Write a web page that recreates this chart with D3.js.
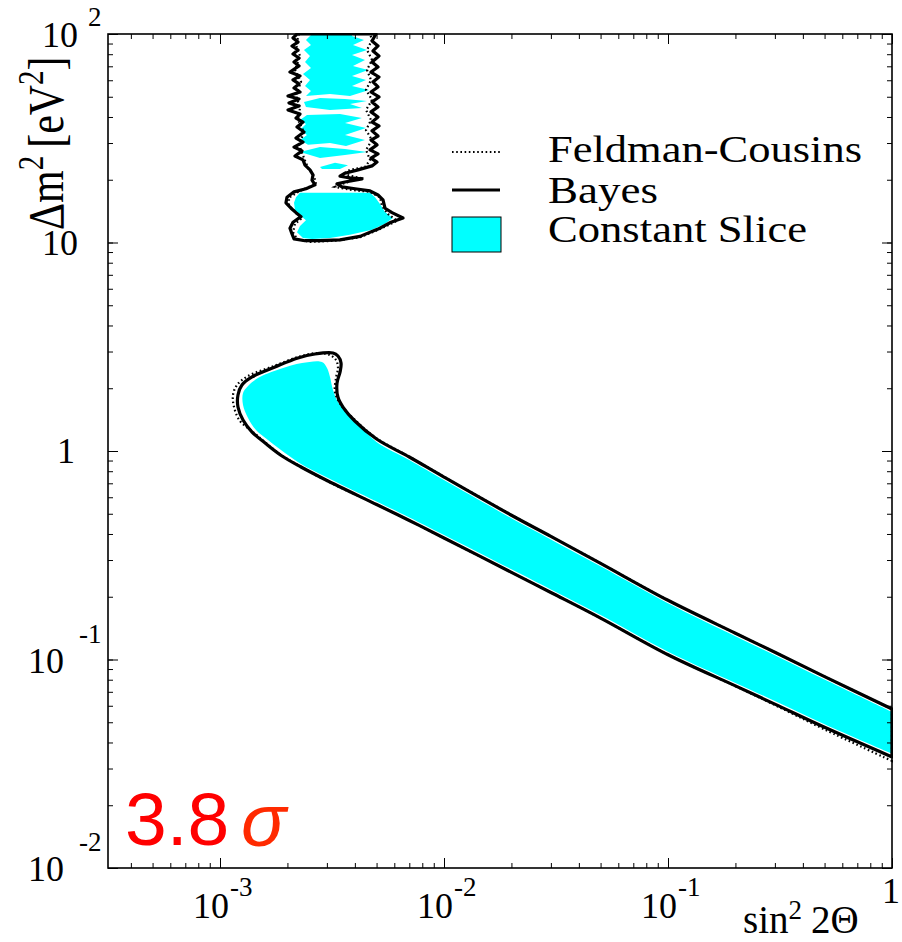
<!DOCTYPE html>
<html>
<head>
<meta charset="utf-8">
<script src="https://cdn.jsdelivr.net/npm/d3@7"></script>
<style>
  body { margin: 0; background: #fff; }
  svg { display: block; }
</style>
</head>
<body>
<script>
// ---------------------------------------------------------------
// Allowed region (3.8 sigma) in the (sin^2 2Theta, Delta m^2) plane
// Each contour is a list of [sin^2 2Theta, Delta m^2 (eV^2)] vertices.
// ---------------------------------------------------------------

// Low-mass band: Bayes contour (solid)
const bayesBand = [
  [1, 0.0341], [0.5, 0.0473], [0.3, 0.0611], [0.2, 0.0747], [0.1, 0.1054],
  [0.05, 0.158], [0.03, 0.2096], [0.02, 0.2619], [0.01, 0.3825], [0.007, 0.4642],
  [0.005, 0.5538], [0.002973, 0.726], [0.0023, 0.838], [0.001891, 0.946],
  [0.001589, 1.092], [0.00139, 1.233], [0.001267, 1.408], [0.001203, 1.625],
  [0.001203, 1.856], [0.001253, 2.073], [0.00139, 2.265], [0.00176, 2.529],
  [0.002228, 2.793], [0.002655, 2.919], [0.003195, 2.951], [0.003363, 2.855],
  [0.00347, 2.642], [0.003436, 2.393], [0.00333, 2.12], [0.00336, 1.815],
  [0.00354, 1.625], [0.004, 1.393], [0.005, 1.142], [0.007, 0.936], [0.01, 0.75],
  [0.02, 0.492], [0.03, 0.3895], [0.05, 0.2892], [0.1, 0.1923], [0.2, 0.1337],
  [0.3, 0.1083], [0.5, 0.0828], [1, 0.0579]
];

// Low-mass band: Feldman-Cousins contour (dotted)
const fcBand = [
  [1, 0.0326], [0.5, 0.0462], [0.3, 0.0605], [0.2, 0.0745], [0.1, 0.1054],
  [0.05, 0.158], [0.03, 0.2096], [0.02, 0.2619], [0.01, 0.382], [0.007, 0.464],
  [0.005, 0.554], [0.002973, 0.722], [0.0023, 0.84], [0.001891, 0.95],
  [0.001589, 1.1], [0.00139, 1.245], [0.001228, 1.393], [0.001155, 1.625],
  [0.001143, 1.856], [0.001191, 2.073], [0.001334, 2.289], [0.001742, 2.557],
  [0.00223, 2.824], [0.002738, 2.951], [0.003098, 2.886], [0.003295, 2.732],
  [0.003363, 2.501], [0.003295, 2.239], [0.003261, 1.919], [0.003471, 1.662],
  [0.004, 1.41], [0.005, 1.15], [0.007, 0.94], [0.01, 0.752], [0.02, 0.494],
  [0.03, 0.39], [0.05, 0.29], [0.1, 0.1923], [0.2, 0.1337], [0.3, 0.1083],
  [0.5, 0.0828], [1, 0.0579]
];

// Low-mass band: constant-slice region (filled)
const sliceBand = [
  [1, 0.0353], [0.5, 0.0489], [0.3, 0.0632], [0.2, 0.0772], [0.1, 0.109],
  [0.05, 0.1634], [0.03, 0.2167], [0.02, 0.2708], [0.01, 0.3955], [0.007, 0.48],
  [0.005, 0.5726], [0.002973, 0.751], [0.0023, 0.867], [0.00195, 0.978],
  [0.001638, 1.129], [0.001448, 1.261], [0.001334, 1.44], [0.001267, 1.662],
  [0.001267, 1.898], [0.001334, 2.05], [0.001477, 2.239], [0.001853, 2.474],
  [0.002323, 2.642], [0.002853, 2.673], [0.003004, 2.501], [0.003098, 2.265],
  [0.003195, 1.962], [0.003363, 1.718], [0.00369, 1.521], [0.004131, 1.347],
  [0.005, 1.104], [0.007, 0.905], [0.01, 0.725], [0.02, 0.476], [0.03, 0.3767],
  [0.05, 0.2797], [0.1, 0.186], [0.2, 0.1293], [0.3, 0.1047], [0.5, 0.0801],
  [1, 0.056]
];

// High-mass island: Bayes contour (solid)
const bayesIsland = [
  [0.002207, 100], [0.002118, 95.7], [0.00223, 91.5], [0.002096, 87.6],
  [0.00223, 83.8], [0.002118, 80.2], [0.002253, 76.7], [0.00214, 73.4],
  [0.002253, 70.3], [0.002053, 65.7], [0.002276, 62.9], [0.002118, 60.2],
  [0.002253, 57.6], [0.00214, 55.1], [0.002276, 52.7], [0.002012, 50.4],
  [0.002253, 48.8], [0.002032, 46.7], [0.002253, 45.1], [0.002012, 43.2],
  [0.002276, 41.3], [0.002184, 39.5], [0.002347, 37.8], [0.002207, 35.8],
  [0.002371, 33.9], [0.002184, 31.7], [0.002347, 30.3], [0.00214, 28.7],
  [0.002323, 27.5], [0.002162, 26.0], [0.002347, 24.9], [0.002396, 23.5],
  [0.002522, 22.3], [0.002601, 21.1], [0.002575, 19.9], [0.002655, 18.9],
  [0.00242, 18.1], [0.00214, 17.5], [0.001991, 16.5], [0.00197, 15.5],
  [0.002075, 14.6], [0.002184, 13.9], [0.0023, 13.3], [0.002118, 12.5],
  [0.002053, 11.7], [0.002096, 10.99], [0.00214, 10.4], [0.002396, 10.2],
  [0.002795, 10.2], [0.003433, 10.3], [0.004217, 10.7], [0.005074, 11.6],
  [0.0058, 12.5], [0.006561, 13.1], [0.005861, 13.9], [0.005453, 14.6],
  [0.005342, 16.0], [0.005074, 16.9], [0.004674, 17.7], [0.004006, 18.1],
  [0.003504, 18.5], [0.003329, 19.1], [0.003614, 19.5], [0.004006, 19.9],
  [0.004304, 20.2], [0.003805, 20.4], [0.003433, 20.8], [0.003614, 21.5],
  [0.004131, 22.3], [0.004772, 23.3], [0.005022, 24.3], [0.004722, 25.4],
  [0.005074, 26.6], [0.004674, 27.8], [0.005022, 29.4], [0.004722, 31.0],
  [0.005074, 32.4], [0.004772, 34.3], [0.005125, 36.2], [0.004772, 37.8],
  [0.005074, 40.0], [0.004722, 42.3], [0.005074, 44.7], [0.004772, 47.2],
  [0.005125, 49.9], [0.004722, 52.7], [0.005074, 55.7], [0.004819, 58.9],
  [0.005125, 62.2], [0.004722, 65.7], [0.005074, 69.5], [0.004772, 73.4],
  [0.005125, 78.4], [0.004819, 82.9], [0.005074, 87.6], [0.004772, 92.6],
  [0.00497, 100]
];

// High-mass island: Feldman-Cousins contour (dotted)
const fcIsland = [
  [0.002253, 100], [0.002184, 88.6], [0.002276, 78.4], [0.002162, 67.2],
  [0.0023, 58.9], [0.002184, 51.0], [0.002276, 44.2], [0.00223, 38.7],
  [0.002371, 33.9], [0.002253, 29.4], [0.002371, 25.4], [0.002471, 22.8],
  [0.002628, 20.8], [0.002683, 19.1], [0.002276, 17.7], [0.002032, 16.4],
  [0.002032, 15.1], [0.002184, 13.9], [0.002323, 13.1], [0.002162, 12.3],
  [0.002118, 11.2], [0.002207, 10.4], [0.002522, 10.06], [0.003261, 10.2],
  [0.004217, 10.6], [0.00518, 11.6], [0.006169, 12.7], [0.005623, 13.7],
  [0.005287, 14.96], [0.00518, 16.5], [0.004674, 17.5], [0.003805, 17.9],
  [0.003261, 18.5], [0.003614, 19.3], [0.004217, 20.4], [0.003541, 21.3],
  [0.003805, 22.3], [0.00444, 23.0], [0.004674, 24.9], [0.004486, 27.8],
  [0.004772, 31.0], [0.004486, 34.6], [0.004722, 38.7], [0.004486, 43.2],
  [0.004772, 48.3], [0.004486, 53.9], [0.004722, 60.2], [0.004532, 67.2],
  [0.004772, 75.1], [0.004532, 83.8], [0.004772, 93.6], [0.004674, 100]
];

// High-mass island: constant-slice regions (filled), one list per piece
const sliceIsland = [
  [[0.002575, 100], [0.00242, 93.6], [0.002548, 88.6], [0.002371, 83.8],
   [0.002522, 78.4], [0.002396, 73.4], [0.002548, 68.7], [0.002347, 64.3],
   [0.002522, 60.2], [0.002396, 56.3], [0.002548, 53.3], [0.00242, 50.4],
   [0.003098, 51.6], [0.003805, 50.4], [0.004627, 53.9], [0.003884, 56.3],
   [0.004486, 60.2], [0.003884, 62.9], [0.004579, 67.2], [0.003924, 70.3],
   [0.00444, 75.1], [0.003884, 79.3], [0.004532, 83.8], [0.003924, 88.6],
   [0.004394, 93.6], [0.003884, 97.8], [0.003884, 100]],
  [[0.002371, 47.2], [0.002795, 49.3], [0.003614, 48.8], [0.004532, 47.7],
   [0.003805, 46.2], [0.004304, 44.2], [0.003098, 43.2], [0.00242, 44.7]],
  [[0.002445, 40.9], [0.002276, 38.7], [0.00242, 37.0], [0.002276, 34.6],
   [0.002445, 32.8], [0.002276, 31.0], [0.002471, 29.4], [0.003098, 30.0],
   [0.003652, 29.0], [0.00444, 31.0], [0.003614, 32.8], [0.004486, 35.4],
   [0.003614, 37.4], [0.004304, 39.5], [0.003433, 41.3]],
  [[0.002276, 27.2], [0.002795, 28.7], [0.003614, 28.1], [0.004532, 27.2],
   [0.003614, 26.3], [0.002795, 25.4]],
  [[0.002795, 23.0], [0.003261, 24.1], [0.003728, 23.5], [0.003433, 22.5],
   [0.002853, 22.5]],
  [[0.002276, 17.3], [0.004674, 17.3], [0.00492, 16.5], [0.00518, 15.3],
   [0.005453, 14.0], [0.00592, 13.1], [0.005453, 12.3], [0.004772, 11.5],
   [0.003805, 10.9], [0.003098, 10.5], [0.002575, 10.4], [0.002347, 10.5],
   [0.002207, 11.2], [0.002276, 12.0], [0.00242, 12.8], [0.002276, 13.5],
   [0.002162, 14.3], [0.00214, 15.5], [0.002184, 16.5]]
];

// Axis ranges and labelled decades
const xDomain = [Math.pow(10, -3.5), 1];
const yDomain = [0.01, 100];
const xTickLabels = [
  { value: 1e-3, base: "10", exp: "-3" },
  { value: 1e-2, base: "10", exp: "-2" },
  { value: 1e-1, base: "10", exp: "-1" },
  { value: 1,    base: "1",  exp: "" }
];
const yTickLabels = [
  { value: 100,  base: "10", exp: "2" },
  { value: 10,   base: "10", exp: "" },
  { value: 1,    base: "1",  exp: "" },
  { value: 0.1,  base: "10", exp: "-1" },
  { value: 0.01, base: "10", exp: "-2" }
];
const legendItems = ["Feldman-Cousins", "Bayes", "Constant Slice"];
const significance = "3.8";

// ---------------------------------------------------------------
const W = 902, H = 942;
const plot = { left: 108, right: 892, top: 34, bottom: 868 };
const serif = "'Liberation Serif', 'Times New Roman', Times, serif";
const sans = "'Liberation Sans', Arial, Helvetica, sans-serif";
const CYAN = "#00ffff";

const svg = d3.select("body").append("svg")
  .attr("width", W).attr("height", H)
  .attr("viewBox", `0 0 ${W} ${H}`);

const x = d3.scaleLog().domain(xDomain).range([plot.left, plot.right]);
const y = d3.scaleLog().domain(yDomain).range([plot.bottom, plot.top]);

svg.append("defs").append("clipPath").attr("id", "plotClip")
  .append("rect")
  .attr("x", plot.left - 1).attr("y", plot.top - 1)
  .attr("width", plot.right - plot.left + 2)
  .attr("height", plot.bottom - plot.top + 2);

const area = svg.append("g").attr("clip-path", "url(#plotClip)");

const smooth = d3.line().x(d => x(d[0])).y(d => y(d[1]))
  .curve(d3.curveCatmullRom.alpha(0.5));
const jagged = d3.line().x(d => x(d[0])).y(d => y(d[1]))
  .curve(d3.curveLinearClosed);

// constant slice fill
area.append("path").attr("d", smooth(sliceBand) + "Z")
  .attr("fill", CYAN).attr("stroke", "none");
area.selectAll("path.slice").data(sliceIsland).join("path")
  .attr("class", "slice")
  .attr("d", d => jagged(d))
  .attr("fill", CYAN).attr("stroke", "none");

// Feldman-Cousins (dotted)
const fcStyle = sel => sel.attr("fill", "none").attr("stroke", "#000")
  .attr("stroke-width", 2.2).attr("stroke-dasharray", "1.6,2.6");
area.append("path").attr("d", smooth(fcBand) + "Z").call(fcStyle);
area.append("path").attr("d", jagged(fcIsland)).call(fcStyle);

// Bayes (solid)
const bayesStyle = sel => sel.attr("fill", "none").attr("stroke", "#000")
  .attr("stroke-width", 3.2).attr("stroke-linejoin", "round");
area.append("path").attr("d", smooth(bayesBand) + "Z").call(bayesStyle);
area.append("path").attr("d", jagged(bayesIsland)).call(bayesStyle);

// ---------------- axes: ticks on all four sides, pointing inward
const xMinor = x.ticks();
const yMinor = y.ticks();
const xMajor = xTickLabels.map(d => d.value);
const yMajor = yTickLabels.map(d => d.value);

function tickAxis(axisFn, scale, values, size, transform) {
  const g = svg.append("g").attr("transform", transform)
    .call(axisFn(scale).tickValues(values).tickSize(size).tickFormat(""));
  g.select(".domain").remove();
  g.selectAll(".tick line").attr("stroke", "#000").attr("stroke-width", 1);
  return g;
}
tickAxis(d3.axisTop, x, xMinor, 5, `translate(0,${plot.bottom})`);
tickAxis(d3.axisTop, x, xMajor, 10, `translate(0,${plot.bottom})`);
tickAxis(d3.axisBottom, x, xMinor, 5, `translate(0,${plot.top})`);
tickAxis(d3.axisBottom, x, xMajor, 10, `translate(0,${plot.top})`);
tickAxis(d3.axisRight, y, yMinor, 5, `translate(${plot.left},0)`);
tickAxis(d3.axisRight, y, yMajor, 10, `translate(${plot.left},0)`);
tickAxis(d3.axisLeft, y, yMinor, 5, `translate(${plot.right},0)`);
tickAxis(d3.axisLeft, y, yMajor, 10, `translate(${plot.right},0)`);

// frame
svg.append("rect")
  .attr("x", plot.left).attr("y", plot.top)
  .attr("width", plot.right - plot.left).attr("height", plot.bottom - plot.top)
  .attr("fill", "none").attr("stroke", "#000").attr("stroke-width", 1.6);

// ---------------- tick labels
const xLab = svg.append("g").attr("font-family", serif).attr("fill", "#000");
xTickLabels.forEach(t => {
  const px = x(t.value);
  if (t.exp) {
    xLab.append("text").attr("x", px - 27).attr("y", 918)
      .attr("font-size", 36).text(t.base);
    xLab.append("text").attr("x", px + 10).attr("y", 896)
      .attr("font-size", 27).text(t.exp);
  } else {
    xLab.append("text").attr("x", px - 1).attr("y", 903)
      .attr("text-anchor", "middle").attr("font-size", 36).text(t.base);
  }
});

const yLab = svg.append("g").attr("font-family", serif).attr("fill", "#000");
yTickLabels.forEach(t => {
  const py = y(t.value);
  if (t.exp) {
    const neg = t.exp.startsWith("-");
    const baseRight = neg ? 64 : 78;
    const expLeft = neg ? 79 : 88;
    // the exponent of the top label sits lower so it stays on the page
    const expY = neg ? py - 17 : py - 8;
    yLab.append("text").attr("x", baseRight).attr("y", py + 13)
      .attr("text-anchor", "end").attr("font-size", 36).text(t.base);
    yLab.append("text").attr("x", expLeft).attr("y", expY)
      .attr("font-size", 27).text(t.exp);
  } else {
    yLab.append("text").attr("x", t.base === "1" ? 75 : 78).attr("y", py + 12)
      .attr("text-anchor", "end").attr("font-size", 36).text(t.base);
  }
});

// ---------------- axis titles
const xt = svg.append("text").attr("x", 743).attr("y", 933)
  .attr("font-family", serif).attr("font-size", 39).attr("fill", "#000");
xt.append("tspan").text("sin");
xt.append("tspan").attr("dy", -14).attr("font-size", 27).text("2");
xt.append("tspan").attr("dy", 14).attr("dx", 9).text("2Θ");

const yt = svg.append("text")
  .attr("transform", "translate(63,230) scale(1.2,1) rotate(-90)")
  .attr("font-family", serif).attr("font-size", 42).attr("fill", "#000");
yt.append("tspan").text("Δm");
yt.append("tspan").attr("dy", -17).attr("font-size", 29).text("2");
yt.append("tspan").attr("dy", 17).attr("dx", 8).text("[eV");
yt.append("tspan").attr("dy", -17).attr("font-size", 29).text("2");
yt.append("tspan").attr("dy", 17).text("]");

// ---------------- legend
const leg = svg.append("g");
const legX0 = 452, legX1 = 500, textX = 548;
const legendWidths = [314, 110, 259];
const legendBaselines = [162, 203, 242];
leg.append("line").attr("x1", legX0).attr("x2", legX1).attr("y1", 152).attr("y2", 152)
  .attr("stroke", "#000").attr("stroke-width", 2).attr("stroke-dasharray", "1.6,2.6");
leg.append("line").attr("x1", legX0).attr("x2", legX1).attr("y1", 190).attr("y2", 190)
  .attr("stroke", "#000").attr("stroke-width", 3);
leg.append("rect").attr("x", legX0).attr("y", 217).attr("width", legX1 - legX0 + 1).attr("height", 35)
  .attr("fill", CYAN).attr("stroke", "#000").attr("stroke-width", 1);
legendItems.forEach((s, i) => {
  leg.append("text").attr("x", textX).attr("y", legendBaselines[i])
    .attr("font-family", serif).attr("font-size", 37).attr("fill", "#000")
    .attr("textLength", legendWidths[i]).attr("lengthAdjust", "spacingAndGlyphs")
    .text(s);
});

// ---------------- significance label
svg.append("text").attr("x", 125).attr("y", 845)
  .attr("font-family", sans).attr("font-size", 75).attr("fill", "#ff0000")
  .text(significance);
svg.append("text").attr("x", 241).attr("y", 846)
  .attr("font-family", sans).attr("font-style", "italic").attr("font-size", 75)
  .attr("fill", "#ff2a00").text("σ");
</script>
</body>
</html>
